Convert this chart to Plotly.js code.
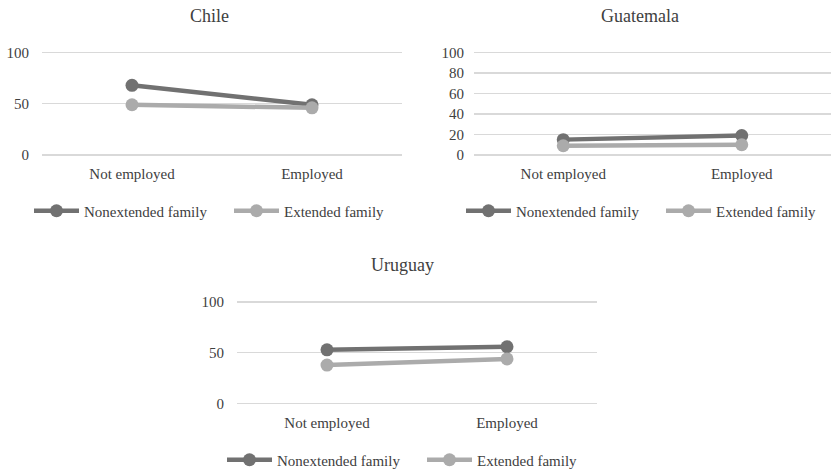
<!DOCTYPE html>
<html>
<head>
<meta charset="utf-8">
<script src="https://cdn.plot.ly/plotly-3.0.1.min.js"></script>
<style>
  html, body { margin: 0; padding: 0; background: #fff; }
  #chart { width: 831px; height: 475px; }
</style>
</head>
<body>
<div id="chart"></div>
<script>
// Employment status categories shared by every panel
const categories = ["Not employed", "Employed"];
const seriesNames = ["Nonextended family", "Extended family"];

// Values per country
const chileNonextended = [68, 49];
const chileExtended = [49, 46];
const guatemalaNonextended = [15, 19];
const guatemalaExtended = [9, 10];
const uruguayNonextended = [53, 56];
const uruguayExtended = [38, 44];

const chileTicks = [0, 50, 100];
const guatemalaTicks = [0, 20, 40, 60, 80, 100];
const uruguayTicks = [0, 50, 100];

const W = 831, H = 475;
const darkGray = "#717171";
const lightGray = "#ababab";
const textColor = "#404040";
const serif = "Liberation Serif";

// Value range is padded a little so gridlines at 0 and 100 are kept
const PAD = 1;

// horizontal domain from pixel edges
const px = (a, b) => [a / W, b / W];
// vertical domain from the pixel rows of value 100 (top) and 0 (bottom)
function py(top, bottom) {
  const perUnit = (bottom - top) / 100;
  const t = top - PAD * perUnit, b = bottom + PAD * perUnit;
  return [1 - b / H, 1 - t / H];
}

function series(y, name, color, xa, ya, legend) {
  return {
    type: "scatter", mode: "lines+markers",
    x: categories, y: y, name: name,
    xaxis: xa, yaxis: ya, legend: legend,
    line: { color: color, width: 4.5 },
    marker: { color: color, size: 13 },
    cliponaxis: false,
    hoverinfo: "skip"
  };
}

const data = [
  series(chileNonextended, seriesNames[0], darkGray, "x", "y", "legend"),
  series(chileExtended, seriesNames[1], lightGray, "x", "y", "legend"),
  series(guatemalaNonextended, seriesNames[0], darkGray, "x2", "y2", "legend2"),
  series(guatemalaExtended, seriesNames[1], lightGray, "x2", "y2", "legend2"),
  series(uruguayNonextended, seriesNames[0], darkGray, "x3", "y3", "legend3"),
  series(uruguayExtended, seriesNames[1], lightGray, "x3", "y3", "legend3")
];

function xAxis(domain, anchor) {
  return {
    domain: domain, anchor: anchor, type: "category",
    range: [-0.5, 1.5], showgrid: false, zeroline: false,
    showline: false, ticks: "", fixedrange: true,
    tickfont: { family: serif, size: 15, color: textColor },
    ticklabelstandoff: 7
  };
}
function yAxis(domain, anchor, ticks, standoff) {
  return {
    domain: domain, anchor: anchor, range: [-PAD, 100 + PAD],
    tickvals: ticks, ticktext: ticks.map(String),
    showgrid: true, gridcolor: "#d9d9d9", gridwidth: 1.2,
    zeroline: false, showline: false, ticks: "", fixedrange: true,
    tickfont: { family: serif, size: 15, color: textColor },
    ticklabelstandoff: standoff
  };
}

function legendAt(xPix, yPix) {
  return {
    orientation: "h", x: xPix / W, y: 1 - yPix / H,
    xanchor: "left", yanchor: "middle",
    font: { family: serif, size: 15, color: textColor },
    bgcolor: "rgba(0,0,0,0)", itemclick: false, itemdoubleclick: false,
    tracegroupgap: 0, itemwidth: 45,
    entrywidth: 140, entrywidthmode: "pixels"
  };
}

function title(text, xPix, yPix) {
  return {
    text: text, xref: "paper", yref: "paper",
    x: xPix / W, y: 1 - yPix / H, xanchor: "center", yanchor: "middle",
    showarrow: false, font: { family: serif, size: 18, color: textColor }
  };
}

const layout = {
  width: W, height: H,
  margin: { l: 0, r: 0, t: 0, b: 0, autoexpand: false },
  paper_bgcolor: "#ffffff", plot_bgcolor: "#ffffff",
  showlegend: true,
  xaxis: xAxis(px(42, 402), "y"),
  yaxis: yAxis(py(52.5, 155), "x", chileTicks, 12),
  xaxis2: xAxis(px(474, 831), "y2"),
  yaxis2: yAxis(py(52.5, 155), "x2", guatemalaTicks, 9),
  xaxis3: xAxis(px(237, 597), "y3"),
  yaxis3: yAxis(py(302, 403.7), "x3", uruguayTicks, 12),
  legend: legendAt(29, 211),
  legend2: legendAt(461, 211),
  legend3: legendAt(222, 460),
  annotations: [
    title("Chile", 209, 16),
    title("Guatemala", 640, 16),
    title("Uruguay", 402, 265)
  ]
};

Plotly.newPlot("chart", data, layout, { displayModeBar: false, staticPlot: true });
</script>
</body>
</html>
